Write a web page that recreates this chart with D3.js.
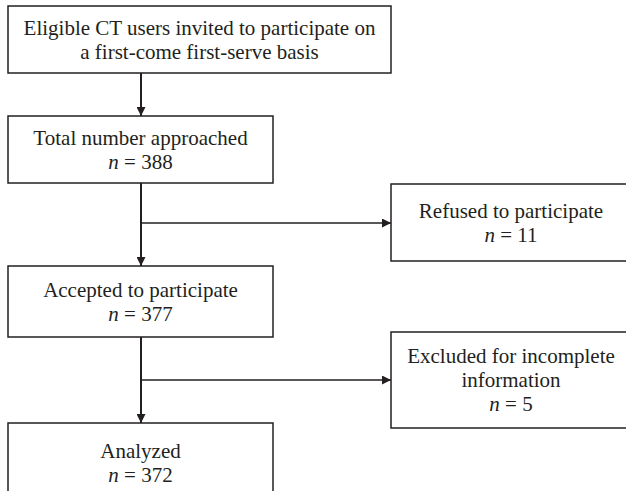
<!DOCTYPE html>
<html>
<head>
    <meta charset="UTF-8">
    <title>Flow diagram</title>
    <script src="https://cdn.jsdelivr.net/npm/d3@7/dist/d3.min.js"></script>
    <style>
        body { margin: 0; background: #fff; }
        text { font-family: "Liberation Serif", "DejaVu Serif", serif; font-size: 21px; fill: #231f20; }
    </style>
</head>
<body>
    <script>
        // main column of the flow, top to bottom
        var mainLabels = [
            ['Eligible CT users invited to participate on', 'a first-come first-serve basis'],
            ['Total number approached'],
            ['Accepted to participate'],
            ['Analyzed']
        ]
        var mainCounts = [null, 388, 377, 372]

        // side boxes (people dropping out)
        var sideLabels = [
            ['Refused to participate'],
            ['Excluded for incomplete', 'information']
        ]
        var sideCounts = [11, 5]

        var W = 626, H = 491
        var ink = '#231f20'

        var svg = d3.select('body')
            .append('svg')
            .attr('width', W)
            .attr('height', H)

        var defs = svg.append('defs')
        defs.append('marker')
            .attr('id', 'arrow')
            .attr('viewBox', '0 0 10 10')
            .attr('refX', 10)
            .attr('refY', 5)
            .attr('markerWidth', 9)
            .attr('markerHeight', 9)
            .attr('markerUnits', 'userSpaceOnUse')
            .attr('orient', 'auto')
            .append('path')
            .attr('d', 'M0,0L10,5L0,10Z')
            .attr('fill', ink)

        // layout
        var mainX = 8, colX = 141
        var mainBoxes = [
            {y: 6, h: 67, w: 383},
            {y: 116, h: 67, w: 265},
            {y: 266, h: 71, w: 265},
            {y: 423, h: 80, w: 265}
        ]
        var sideX = 391, sideW = 240
        var sideBoxes = [
            {y: 184, h: 77},
            {y: 332, h: 96}
        ]
        var branchY = [223, 380]

        function linesFor(labels, count) {
            var ls = labels.map(function(t){ return {text: t} })
            if (count != null) ls.push({n: count})
            return ls
        }

        function drawBox(x, y, w, h, lines) {
            var g = svg.append('g')
            g.append('rect')
                .attr('x', x).attr('y', y)
                .attr('width', w).attr('height', h)
                .attr('fill', 'none')
                .attr('stroke', ink)
                .attr('stroke-width', 1.5)
            var lh = 24
            var cy = y + h / 2
            var first = cy - (lines.length - 1) * lh / 2 + 7
            g.selectAll('text')
                .data(lines)
                .enter()
                .append('text')
                .attr('x', x + w / 2)
                .attr('y', function(d, i){ return first + i * lh })
                .attr('text-anchor', 'middle')
                .each(function(d){
                    var t = d3.select(this)
                    if (d.n == null) {
                        t.text(d.text)
                    } else {
                        t.append('tspan').attr('font-style', 'italic').text('n')
                        t.append('tspan').text(' = ' + d.n)
                    }
                })
        }

        mainLabels.forEach(function(lab, i){
            var b = mainBoxes[i]
            drawBox(mainX, b.y, b.w, b.h, linesFor(lab, mainCounts[i]))
        })
        sideLabels.forEach(function(lab, i){
            var b = sideBoxes[i]
            drawBox(sideX, b.y, sideW, b.h, linesFor(lab, sideCounts[i]))
        })

        // vertical arrows between main boxes
        for (var i = 0; i < mainBoxes.length - 1; i++) {
            svg.append('line')
                .attr('x1', colX).attr('y1', mainBoxes[i].y + mainBoxes[i].h)
                .attr('x2', colX).attr('y2', mainBoxes[i + 1].y)
                .attr('stroke', ink)
                .attr('stroke-width', 2)
                .attr('marker-end', 'url(#arrow)')
        }

        // branch arrows to the side boxes
        branchY.forEach(function(y){
            svg.append('line')
                .attr('x1', colX).attr('y1', y)
                .attr('x2', sideX).attr('y2', y)
                .attr('stroke', ink)
                .attr('stroke-width', 1.5)
                .attr('marker-end', 'url(#arrow)')
        })
    </script>
</body>
</html>
